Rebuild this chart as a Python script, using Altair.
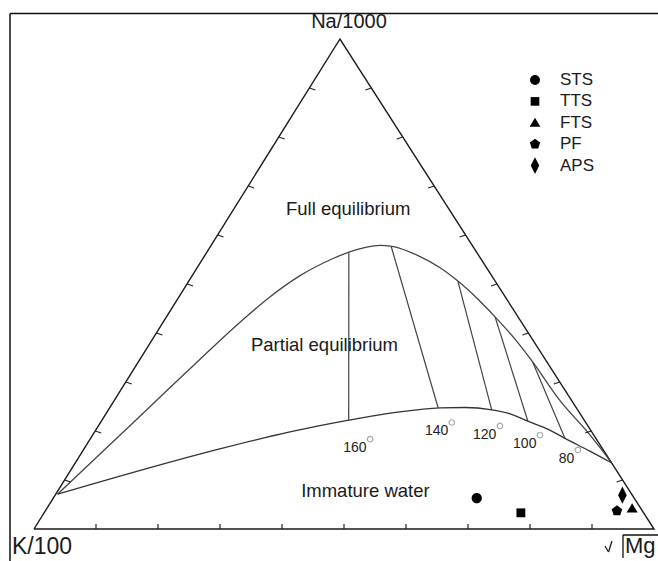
import altair as alt
import pandas as pd

# ---------------- data (ternary percentages: Na/1000, K/100, sqrt(Mg)) ----------------
groups = ["STS", "TTS", "FTS", "PF", "APS"]
pt_na = [6.3, 3.3, 4.2, 3.7, 6.9]
pt_mg = [68.3, 76.9, 94.4, 92.2, 91.5]

full_na = [7.1, 15.3, 25.0, 34.7, 42.2, 47.4, 51.7, 55.2, 56.5, 57.4, 57.9, 57.7,
           55.9, 53.3, 50.6, 47.1, 43.3, 38.8, 34.1, 26.3, 19.2, 13.5]
full_mg = [0.3, 3.1, 6.4, 9.7, 12.4, 14.7, 17.4, 21.0, 22.9, 25.0, 27.2, 29.3,
           34.2, 39.2, 43.4, 48.2, 53.0, 58.4, 63.6, 71.8, 80.2, 86.5]

part_na = [7.1, 16.5, 19.8, 22.2, 23.9, 24.7, 24.8, 24.3, 23.5, 22.0, 20.4, 18.5, 15.9, 13.5]
part_mg = [0.3, 22.3, 31.5, 39.8, 47.2, 53.3, 57.3, 61.9, 65.2, 68.8, 72.8, 76.5, 81.8, 86.5]

temps = ["160", "140", "120", "100", "80"]
tie_top_na = [56.5, 57.6, 50.6, 43.3, 34.1]
tie_top_mg = [22.9, 29.2, 43.4, 53.0, 63.6]
tie_bot_na = [22.2, 24.7, 24.2, 22.0, 18.5]
tie_bot_mg = [39.8, 53.0, 61.9, 68.8, 76.5]
temp_lab_na = [16.5, 19.9, 19.2, 17.3, 14.3]
temp_lab_mg = [45.5, 57.0, 65.1, 72.5, 80.1]

regions = ["Full equilibrium", "Partial equilibrium", "Immature water"]
region_na = [65.4, 37.6, 7.8]
region_mg = [18.4, 28.3, 49.6]

tick_pct = [10, 20, 30, 40, 50, 60, 70, 80, 90]

# ---------------- geometry helpers ----------------
A = 0.4935          # horizontal position of the Na apex along the base
W, H = 658, 561
BASE_PX = 620.0     # pixel length of the base
HGT_PX = 490.0      # pixel height of the triangle
XDOM = [-34 / BASE_PX, (W - 34) / BASE_PX]
YDOM = [-(H - 529) / HGT_PX, 529 / HGT_PX]


def proj(na, mg):
    return (mg + A * na) / 100.0, na / 100.0


xs = alt.Scale(domain=XDOM, nice=False, zero=False)
ys = alt.Scale(domain=YDOM, nice=False, zero=False)
X = lambda f: alt.X(f, type="quantitative", scale=xs, axis=None)
Y = lambda f: alt.Y(f, type="quantitative", scale=ys, axis=None)

# triangle outline
tri_rows = []
for i, (na, mg) in enumerate([(0, 0), (100, 0), (0, 100), (0, 0)]):
    u, v = proj(na, mg)
    tri_rows.append({"u": u, "v": v, "o": i})
tri_df = pd.DataFrame(tri_rows)


def curve_df(nas, mgs):
    rows = []
    for i, (na, mg) in enumerate(zip(nas, mgs)):
        u, v = proj(na, mg)
        rows.append({"u": u, "v": v, "o": i})
    return pd.DataFrame(rows)


full_df = curve_df(full_na, full_mg)
part_df = curve_df(part_na, part_mg)

# tie lines
tie_rows = []
for t, a_na, a_mg, b_na, b_mg, l_na, l_mg in zip(temps, tie_top_na, tie_top_mg, tie_bot_na,
                                                 tie_bot_mg, temp_lab_na, temp_lab_mg):
    u1, v1 = proj(a_na, a_mg)
    u2, v2 = proj(b_na, b_mg)
    lu, lv = proj(l_na, l_mg)
    tie_rows.append({"t": t, "u": u1, "v": v1, "u2": u2, "v2": v2, "lu": lu, "lv": lv})
tie_df = pd.DataFrame(tie_rows)

# ticks along the three edges
tick_rows = []
for p in tick_pct:
    u, v = proj(p, 0)        # left edge (K - Na)
    tick_rows.append({"u": u, "v": v, "u2": u + 6 / BASE_PX, "v2": v - 2 / HGT_PX})
    u, v = proj(p, 100 - p)  # right edge (Na - Mg)
    tick_rows.append({"u": u, "v": v, "u2": u - 6 / BASE_PX, "v2": v - 2 / HGT_PX})
    u, v = proj(0, p)        # base (K - Mg)
    tick_rows.append({"u": u, "v": v, "u2": u, "v2": v + 5 / HGT_PX})
tick_df = pd.DataFrame(tick_rows)

# samples
pt_rows = []
for g, na, mg in zip(groups, pt_na, pt_mg):
    u, v = proj(na, mg)
    pt_rows.append({"Group": g, "u": u, "v": v})
pt_df = pd.DataFrame(pt_rows)

# region labels
reg_rows = []
for r, na, mg in zip(regions, region_na, region_mg):
    u, v = proj(na, mg)
    reg_rows.append({"r": r, "u": u, "v": v})
reg_df = pd.DataFrame(reg_rows)

# corner labels
corner_rows = []
for lab, (na, mg), dx, dy in [("Na/1000", (100, 0), 9, -11),
                              ("K/100", (0, 0), -22, 25),
                              ("Mg", (0, 100), -29, 24)]:
    u, v = proj(na, mg)
    corner_rows.append({"lab": lab, "u": u, "v": v, "dx": dx, "dy": dy})

FONT = "Liberation Sans"

shape_paths = [
    "M-0.55,0A0.55,0.55,0,1,1,0.55,0A0.55,0.55,0,1,1,-0.55,0Z",          # circle
    "M-0.48,-0.48H0.48V0.48H-0.48Z",                                      # square
    "M0,-0.55L0.6,0.45L-0.6,0.45Z",                                       # triangle
    "M0,-0.6L0.571,-0.185L0.353,0.485L-0.353,0.485L-0.571,-0.185Z",       # pentagon
    "M0,-0.94L0.47,0L0,0.94L-0.47,0Z",                                    # diamond
]

# ---------------- layers ----------------
tri = alt.Chart(tri_df).mark_line(color="#1a1a1a", strokeWidth=1.4).encode(
    x=X("u"), y=Y("v"), order="o:Q")

full = alt.Chart(full_df).mark_line(color="#444444", strokeWidth=1.3, interpolate="monotone").encode(
    x=X("u"), y=Y("v"), order="o:Q")

part = alt.Chart(part_df).mark_line(color="#333333", strokeWidth=1.3, interpolate="monotone").encode(
    x=X("u"), y=Y("v"), order="o:Q")

ties = alt.Chart(tie_df).mark_rule(color="#444444", strokeWidth=1.2).encode(
    x=X("u"), y=Y("v"), x2="u2", y2="v2")

ticks = alt.Chart(tick_df).mark_rule(color="#222222", strokeWidth=1.2).encode(
    x=X("u"), y=Y("v"), x2="u2", y2="v2")

tlabels = alt.Chart(tie_df).mark_text(font=FONT, fontSize=14, align="right", baseline="middle",
                                      color="#222222").encode(
    x=X("lu"), y=Y("lv"), text="t:N")

degs = alt.Chart(tie_df).mark_point(shape="circle", filled=False, size=30, color="#888888",
                                    strokeWidth=1.2).encode(
    x=X("lu"), y=Y("lv"), xOffset=alt.value(3.5), yOffset=alt.value(-9))

regtext = alt.Chart(reg_df).mark_text(font=FONT, fontSize=18.5, align="center", baseline="middle",
                                      color="#1a1a1a").encode(
    x=X("u"), y=Y("v"), text="r:N")

corner_layers = []
for c, fs in zip(corner_rows, [20, 23, 22]):
    corner_layers.append(
        alt.Chart(pd.DataFrame([c])).mark_text(
            font=FONT, fontSize=fs, align="left" if c["lab"] != "Na/1000" else "center",
            baseline="alphabetic", dx=c["dx"], dy=c["dy"], color="#1a1a1a").encode(
            x=X("u"), y=Y("v"), text="lab:N"))

points = alt.Chart(pt_df).mark_point(filled=True, opacity=1, color="black", size=340).encode(
    x=X("u"), y=Y("v"),
    shape=alt.Shape("Group:N", scale=alt.Scale(domain=groups, range=shape_paths),
                    legend=alt.Legend(title=None, orient="none", legendX=526, legendY=71,
                                      symbolSize=324, labelFont=FONT, labelFontSize=17,
                                      labelColor="#1a1a1a", labelOffset=16, rowPadding=4.4,
                                      symbolFillColor="black", symbolStrokeColor="black",
                                      symbolStrokeWidth=0, padding=0)))


# frame and radical sign (decoration)
def seg(x1, y1, x2, y2, w=1.5):
    return alt.Chart(pd.DataFrame({"k": [0]})).mark_rule(color="#111111", strokeWidth=w).encode(
        x=alt.value(x1), y=alt.value(y1), x2=alt.value(x2), y2=alt.value(y2))


deco = [
    seg(10, 13.5, 10, 561),
    seg(10, 13.5, 658, 13.5),
    seg(605, 546, 608.5, 552, 1.2),
    seg(608.5, 552, 612, 541, 1.2),
    seg(623, 535, 623, 558, 1.3),
    seg(623, 535, 658, 535, 1.3),
]

chart = alt.layer(tri, full, part, ties, ticks, tlabels, degs, regtext, *corner_layers,
                  points, *deco).properties(
    width=W, height=H, padding=0, autosize=alt.AutoSizeParams(type="none"),
    background="white").configure_view(stroke=None)

chart.save("out.html", embed_options={"renderer": "svg", "actions": False})
